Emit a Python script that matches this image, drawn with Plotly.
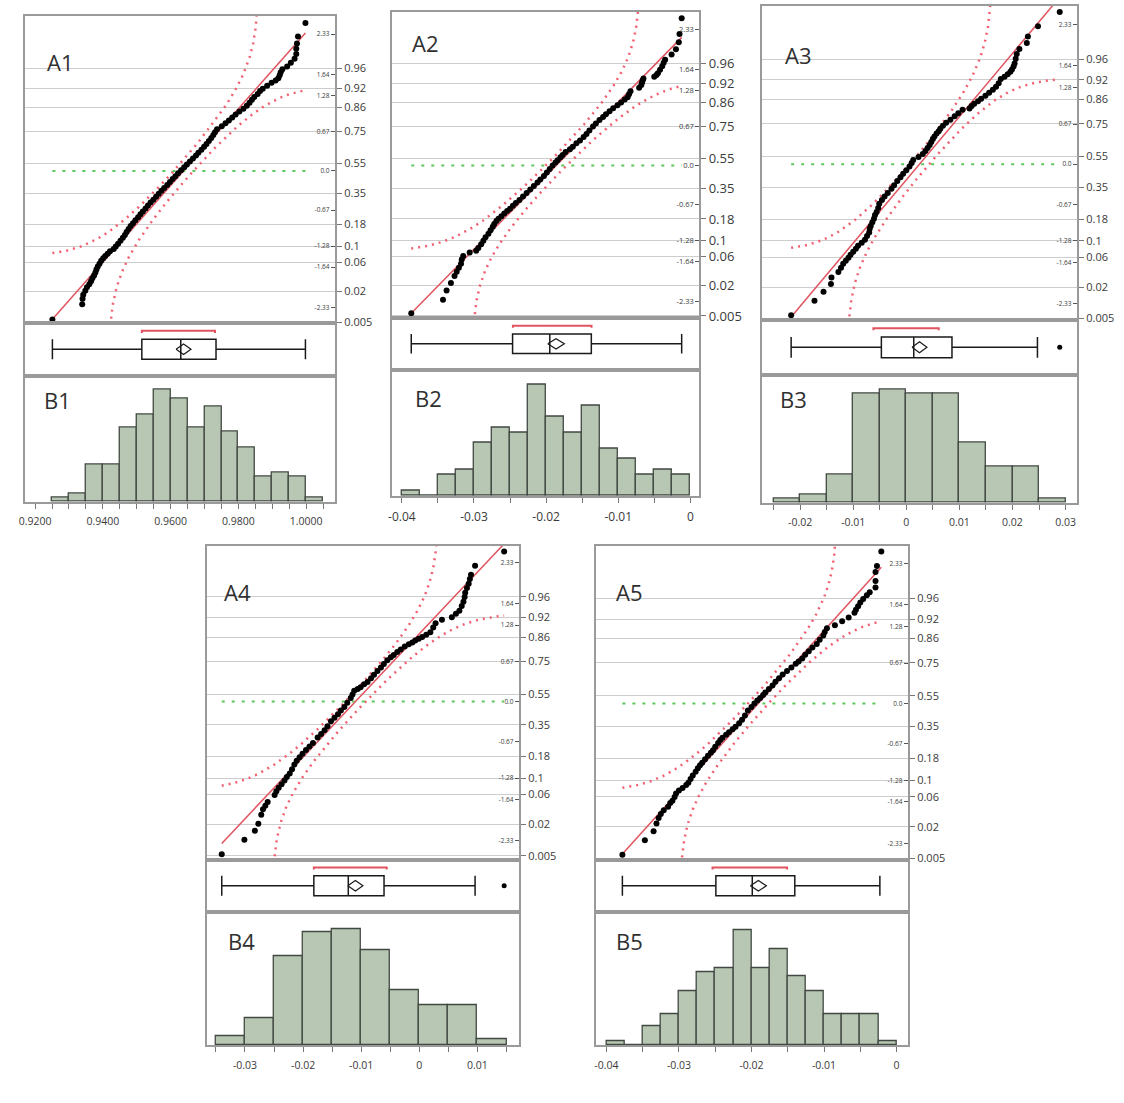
import plotly.graph_objects as go
from statistics import NormalDist

ND = NormalDist()
W, H = 1124, 1103

# ------------------------------------------------------------------ data
prob_levels = [0.005, 0.02, 0.06, 0.1, 0.18, 0.35, 0.55, 0.75, 0.86, 0.92, 0.96]
prob_labels = ["0.005", "0.02", "0.06", "0.1", "0.18", "0.35", "0.55", "0.75", "0.86", "0.92", "0.96"]
z_ticks = [-2.33, -1.64, -1.28, -0.67, 0.0, 0.67, 1.28, 1.64, 2.33]
z_labels = ["-2.33", "-1.64", "-1.28", "-0.67", "0.0", "0.67", "1.28", "1.64", "2.33"]

qq_titles = ["A1", "A2", "A3", "A4", "A5"]
hist_titles = ["B1", "B2", "B3", "B4", "B5"]

# normal quantile plot points (value, normal quantile)
a1_x = [0.9251, 0.9339, 0.9340, 0.9342, 0.9348, 0.9353, 0.9360, 0.9365, 0.9369, 0.9374, 0.9378, 0.9381,
        0.9385, 0.9390, 0.9395, 0.9401, 0.9407, 0.9414, 0.9421, 0.9432, 0.9438, 0.9445, 0.9452, 0.9459,
        0.9465, 0.9470, 0.9476, 0.9482, 0.9489, 0.9496, 0.9504, 0.9511, 0.9518, 0.9526, 0.9533, 0.9541,
        0.9549, 0.9557, 0.9565, 0.9573, 0.9581, 0.9590, 0.9598, 0.9606, 0.9614, 0.9622, 0.9631, 0.9640,
        0.9648, 0.9657, 0.9666, 0.9675, 0.9682, 0.9691, 0.9699, 0.9706, 0.9713, 0.9720, 0.9726, 0.9731,
        0.9737, 0.9751, 0.9762, 0.9772, 0.9782, 0.9792, 0.9803, 0.9815, 0.9825, 0.9833, 0.9840, 0.9847,
        0.9857, 0.9864, 0.9872, 0.9885, 0.9898, 0.9910, 0.9918, 0.9922, 0.9925, 0.9930, 0.9944, 0.9955,
        0.9966, 0.9971, 0.9971, 0.9973, 0.9976, 0.9998]
a1_z = [-2.53, -2.27, -2.18, -2.11, -2.04, -1.98, -1.93, -1.88, -1.83, -1.78, -1.73, -1.68,
        -1.63, -1.58, -1.53, -1.49, -1.45, -1.41, -1.37, -1.33, -1.29, -1.24, -1.19, -1.14,
        -1.09, -1.04, -0.99, -0.94, -0.89, -0.84, -0.79, -0.74, -0.69, -0.64, -0.59, -0.54,
        -0.49, -0.44, -0.39, -0.34, -0.29, -0.24, -0.19, -0.14, -0.09, -0.04, 0.01, 0.06,
        0.11, 0.16, 0.21, 0.26, 0.31, 0.36, 0.41, 0.46, 0.51, 0.56, 0.61, 0.66,
        0.71, 0.76, 0.81, 0.86, 0.91, 0.96, 1.01, 1.06, 1.11, 1.16, 1.21, 1.26,
        1.31, 1.36, 1.40, 1.45, 1.50, 1.54, 1.58, 1.63, 1.68, 1.73, 1.78, 1.84,
        1.91, 1.99, 2.08, 2.17, 2.29, 2.52]

a2_x = [-0.0387, -0.0343, -0.0338, -0.0332, -0.0327, -0.0324, -0.0321, -0.0318, -0.0317, -0.0315,
        -0.0306, -0.0297, -0.0294, -0.0290, -0.0287, -0.0284, -0.0280, -0.0277, -0.0274, -0.0272,
        -0.0269, -0.0266, -0.0262, -0.0258, -0.0254, -0.0250, -0.0246, -0.0242, -0.0237, -0.0232,
        -0.0227, -0.0222, -0.0217, -0.0212, -0.0208, -0.0203, -0.0199, -0.0195, -0.0191, -0.0187,
        -0.0184, -0.0180, -0.0177, -0.0173, -0.0167, -0.0163, -0.0158, -0.0153, -0.0148, -0.0144,
        -0.0140, -0.0135, -0.0131, -0.0126, -0.0121, -0.0117, -0.0112, -0.0107, -0.0101, -0.0096,
        -0.0091, -0.0087, -0.0085, -0.0083, -0.0071, -0.0068, -0.0067, -0.0066, -0.0065, -0.0050,
        -0.0047, -0.0045, -0.0042, -0.0039, -0.0037, -0.0035, -0.0026, -0.0020, -0.0016, -0.0015,
        -0.0012]
a2_z = [-2.53, -2.30, -2.14, -2.01, -1.89, -1.82, -1.75, -1.68, -1.61, -1.55,
        -1.49, -1.46, -1.41, -1.35, -1.29, -1.23, -1.17, -1.11, -1.05, -1.00,
        -0.95, -0.91, -0.87, -0.82, -0.78, -0.74, -0.69, -0.64, -0.59, -0.53,
        -0.47, -0.41, -0.35, -0.29, -0.24, -0.18, -0.12, -0.06, 0.00, 0.05,
        0.09, 0.14, 0.18, 0.23, 0.28, 0.32, 0.38, 0.43, 0.49, 0.54,
        0.60, 0.67, 0.72, 0.78, 0.83, 0.88, 0.93, 0.98, 1.03, 1.08,
        1.13, 1.17, 1.22, 1.27, 1.33, 1.38, 1.42, 1.46, 1.49, 1.52,
        1.55, 1.58, 1.64, 1.70, 1.76, 1.81, 1.90, 1.99, 2.11, 2.25,
        2.52]

a3_x = [-0.0217, -0.0173, -0.0156, -0.0142, -0.0141, -0.0128, -0.0123, -0.0119, -0.0114, -0.0109,
        -0.0105, -0.0100, -0.0095, -0.0091, -0.0084, -0.0078, -0.0074, -0.0070, -0.0069, -0.0067,
        -0.0064, -0.0061, -0.0059, -0.0056, -0.0053, -0.0051, -0.0046, -0.0041, -0.0035, -0.0028,
        -0.0023, -0.0017, -0.0011, -0.0006, 0.0000, 0.0006, 0.0010, 0.0013, 0.0023, 0.0031,
        0.0036, 0.0040, 0.0044, 0.0047, 0.0050, 0.0053, 0.0057, 0.0061, 0.0064, 0.0069,
        0.0075, 0.0083, 0.0091, 0.0098, 0.0106, 0.0119, 0.0123, 0.0128, 0.0135, 0.0141,
        0.0149, 0.0156, 0.0163, 0.0169, 0.0174, 0.0178, 0.0185, 0.0191, 0.0196, 0.0199,
        0.0202, 0.0204, 0.0206, 0.0208, 0.0213, 0.0227, 0.0229, 0.0248, 0.0289]
a3_z = [-2.52, -2.28, -2.13, -2.00, -1.89, -1.80, -1.73, -1.66, -1.61, -1.56,
        -1.51, -1.46, -1.41, -1.36, -1.31, -1.26, -1.20, -1.14, -1.08, -1.03,
        -0.97, -0.91, -0.85, -0.80, -0.73, -0.66, -0.60, -0.54, -0.48, -0.41,
        -0.35, -0.28, -0.22, -0.16, -0.10, -0.04, 0.02, 0.07, 0.12, 0.17,
        0.22, 0.27, 0.32, 0.37, 0.42, 0.46, 0.51, 0.55, 0.59, 0.64,
        0.69, 0.74, 0.80, 0.85, 0.91, 0.93, 0.97, 1.01, 1.05, 1.09,
        1.14, 1.19, 1.24, 1.29, 1.35, 1.42, 1.46, 1.50, 1.54, 1.58,
        1.63, 1.68, 1.76, 1.84, 1.92, 2.02, 2.13, 2.30, 2.54]

a4_x = [-0.0340, -0.0301, -0.0283, -0.0277, -0.0272, -0.0269, -0.0265, -0.0261, -0.0249, -0.0246,
        -0.0242, -0.0237, -0.0232, -0.0228, -0.0223, -0.0219, -0.0215, -0.0211, -0.0206, -0.0201,
        -0.0195, -0.0189, -0.0183, -0.0175, -0.0169, -0.0163, -0.0158, -0.0152, -0.0146, -0.0140,
        -0.0135, -0.0129, -0.0124, -0.0118, -0.0115, -0.0112, -0.0106, -0.0101, -0.0095, -0.0089,
        -0.0083, -0.0078, -0.0072, -0.0066, -0.0061, -0.0055, -0.0049, -0.0044, -0.0038, -0.0032,
        -0.0025, -0.0018, -0.0012, -0.0007, -0.0001, 0.0005, 0.0012, 0.0019, 0.0024, 0.0028,
        0.0039, 0.0056, 0.0063, 0.0069, 0.0073, 0.0076, 0.0078, 0.0079, 0.0082, 0.0085,
        0.0087, 0.0089, 0.0096, 0.0146]
a4_z = [-2.55, -2.31, -2.16, -2.04, -1.89, -1.80, -1.74, -1.68, -1.56, -1.50,
        -1.44, -1.38, -1.32, -1.26, -1.20, -1.13, -1.05, -0.99, -0.93, -0.87,
        -0.81, -0.75, -0.69, -0.60, -0.54, -0.48, -0.41, -0.33, -0.27, -0.21,
        -0.15, -0.09, -0.02, 0.06, 0.12, 0.18, 0.21, 0.24, 0.29, 0.33,
        0.39, 0.45, 0.51, 0.57, 0.63, 0.69, 0.74, 0.78, 0.83, 0.87,
        0.92, 0.96, 0.99, 1.02, 1.05, 1.08, 1.12, 1.16, 1.24, 1.31,
        1.37, 1.41, 1.47, 1.52, 1.60, 1.67, 1.75, 1.82, 1.90, 1.97,
        2.05, 2.12, 2.27, 2.51]

a5_x = [-0.0378, -0.0347, -0.0335, -0.0331, -0.0328, -0.0325, -0.0321, -0.0315, -0.0312, -0.0309,
        -0.0306, -0.0304, -0.0300, -0.0295, -0.0290, -0.0287, -0.0284, -0.0281, -0.0277, -0.0274,
        -0.0271, -0.0268, -0.0264, -0.0260, -0.0256, -0.0253, -0.0250, -0.0246, -0.0243, -0.0240,
        -0.0235, -0.0231, -0.0226, -0.0222, -0.0217, -0.0213, -0.0209, -0.0205, -0.0200, -0.0196,
        -0.0192, -0.0188, -0.0184, -0.0181, -0.0176, -0.0171, -0.0167, -0.0162, -0.0157, -0.0151,
        -0.0145, -0.0139, -0.0135, -0.0130, -0.0126, -0.0121, -0.0116, -0.0110, -0.0106, -0.0101,
        -0.0099, -0.0096, -0.0085, -0.0075, -0.0066, -0.0058, -0.0056, -0.0053, -0.0050, -0.0046,
        -0.0041, -0.0037, -0.0029, -0.0029, -0.0029, -0.0027, -0.0021]
a5_z = [-2.52, -2.28, -2.13, -2.00, -1.91, -1.84, -1.78, -1.72, -1.66, -1.62,
        -1.56, -1.50, -1.45, -1.41, -1.36, -1.32, -1.26, -1.20, -1.14, -1.08,
        -1.03, -0.99, -0.93, -0.87, -0.82, -0.78, -0.72, -0.66, -0.61, -0.57,
        -0.52, -0.48, -0.43, -0.39, -0.33, -0.27, -0.20, -0.12, -0.06, 0.00,
        0.05, 0.09, 0.14, 0.18, 0.24, 0.30, 0.36, 0.42, 0.48, 0.54,
        0.60, 0.66, 0.70, 0.75, 0.81, 0.87, 0.93, 0.99, 1.06, 1.13,
        1.19, 1.25, 1.30, 1.37, 1.43, 1.51, 1.56, 1.62, 1.68, 1.74,
        1.80, 1.85, 1.93, 2.04, 2.19, 2.29, 2.53]

# fitted normal (mean, sd) and confidence-band half width (probability units)
fit_mean = [0.96382, -0.01862, 0.00248, -0.0110, -0.01905]
fit_sd = [0.01532, 0.00794, 0.00948, 0.0097, 0.00747]
band_d = [0.075, 0.072, 0.076, 0.071, 0.074]

# outlier box plots
box_low = [0.9251, -0.0387, -0.0217, -0.0340, -0.0378]
box_q1 = [0.9515, -0.02465, -0.0047, -0.01815, -0.02491]
box_median = [0.9630, -0.01949, 0.0014, -0.01222, -0.01989]
box_q3 = [0.9734, -0.01373, 0.0086, -0.00607, -0.01403]
box_high = [0.9998, -0.0012, 0.0247, 0.0096, -0.0023]
box_outliers = [[], [], [0.0289], [0.0146], []]
shorth_low = [0.9515, -0.0246, -0.0062, -0.01815, -0.02537]
shorth_high = [0.9731, -0.0137, 0.0061, -0.00561, -0.01509]
mean_ci = [0.0022, 0.00115, 0.0014, 0.0013, 0.0011]

# histograms
b1_start, b1_width = 0.925, 0.005
b1_counts = [1, 2, 9, 9, 18, 21, 27, 25, 18, 23, 17, 13, 6, 7, 6, 1]
b2_start, b2_width = -0.04, 0.0025
b2_counts = [1, 0, 4, 5, 10, 13, 12, 21, 15, 12, 17, 9, 7, 4, 5, 4]
b3_start, b3_width = -0.025, 0.005
b3_counts = [1, 2, 7, 27, 28, 27, 27, 15, 9, 9, 1]
b4_start, b4_width = -0.035, 0.005
b4_counts = [3, 9, 29, 37, 38, 31, 18, 13, 13, 2]
b5_start, b5_width = -0.04, 0.0025
b5_counts = [1, 0, 5, 8, 14, 19, 20, 30, 20, 25, 18, 14, 8, 8, 8, 1]

b1_tick_vals = [0.92, 0.94, 0.96, 0.98, 1.00]
b1_tick_text = ["0.9200", "0.9400", "0.9600", "0.9800", "1.0000"]
b2_tick_vals = [-0.04, -0.03, -0.02, -0.01, 0.0]
b2_tick_text = ["-0.04", "-0.03", "-0.02", "-0.01", "0"]
b3_tick_vals = [-0.02, -0.01, 0.0, 0.01, 0.02, 0.03]
b3_tick_text = ["-0.02", "-0.01", "0", "0.01", "0.02", "0.03"]
b4_tick_vals = [-0.03, -0.02, -0.01, 0.0, 0.01]
b4_tick_text = ["-0.03", "-0.02", "-0.01", "0", "0.01"]
b5_tick_vals = [-0.04, -0.03, -0.02, -0.01, 0.0]
b5_tick_text = ["-0.04", "-0.03", "-0.02", "-0.01", "0"]

qq_x = [a1_x, a2_x, a3_x, a4_x, a5_x]
qq_z = [a1_z, a2_z, a3_z, a4_z, a5_z]
h_start = [b1_start, b2_start, b3_start, b4_start, b5_start]
h_width = [b1_width, b2_width, b3_width, b4_width, b5_width]
h_counts = [b1_counts, b2_counts, b3_counts, b4_counts, b5_counts]
h_tick_vals = [b1_tick_vals, b2_tick_vals, b3_tick_vals, b4_tick_vals, b5_tick_vals]
h_tick_text = [b1_tick_text, b2_tick_text, b3_tick_text, b4_tick_text, b5_tick_text]

# ------------------------------------------------------------------ geometry / style (pixels)
GEOM = [
    dict(x0=19, x1=331, top=16, qb=325, bb=378, hb=505, zr=(-2.59, 2.64), xr=(0.91698, 1.0086),
         hmax=30.5, plab=11, zlab=6.5, hlab=10.5, A=(39, 62), B=(36, 403)),
    dict(x0=388, x1=697, top=12, qb=320, bb=372, hb=499, zr=(-2.61, 2.63), xr=(-0.04138, 0.00124),
         hmax=23.9, plab=13, zlab=7.5, hlab=12, A=(406, 43), B=(409, 401)),
    dict(x0=760, x1=1077, top=6, qb=322, bb=377, hb=506, zr=(-2.60, 2.64), xr=(-0.0272, 0.0322),
         hmax=31.8, plab=11, zlab=6.5, hlab=10.5, A=(781, 55), B=(776, 402)),
    dict(x0=202, x1=516, top=549, qb=865, bb=918, hb=1052, zr=(-2.64, 2.61), xr=(-0.03655, 0.0172),
         hmax=43.5, plab=11, zlab=6.5, hlab=10.5, A=(217, 596), B=(221, 947)),
    dict(x0=593, x1=907, top=549, qb=865, bb=918, hb=1052, zr=(-2.60, 2.63), xr=(-0.04146, 0.0016),
         hmax=34.6, plab=11, zlab=6.5, hlab=10.5, A=(611, 596), B=(611, 947)),
]

FRAME = "#9a9a9a"
GRID = "#cdcdcd"
TXT = "#3a3a3a"
RED = "#e0535f"
BAND = "#f0606f"
GREEN = "#5cc85c"
BAR = "#b7c7b4"
BAR_LINE = "#414841"
FONT = "Open Sans"


def sfx(i):
    return "" if i == 1 else str(i)


def band_curves(mean, sd, d, xmin, xmax):
    n = 1500
    u0, u1 = (xmin - mean) / sd, (xmax - mean) / sd
    xa, za, xb, zb = [], [], [], []
    for i in range(n + 1):
        u = u0 + (u1 - u0) * i / n
        p = ND.cdf(u)
        x = mean + sd * u
        if p - d > 1e-7:
            z = ND.inv_cdf(p - d)
            if z > -3.6:
                xa.append(x)
                za.append(z)
        if p + d < 1 - 1e-7:
            z = ND.inv_cdf(p + d)
            if z < 3.6:
                xb.append(x)
                zb.append(z)
    return xa, za, xb, zb


fig = go.Figure()
layout = dict(
    width=W, height=H, margin=dict(l=0, r=0, t=0, b=0),
    paper_bgcolor="white", plot_bgcolor="white", showlegend=False, hovermode=False,
    annotations=[],
)

prob_z = [ND.inv_cdf(p) for p in prob_levels]

for k, g in enumerate(GEOM):
    iq, ib, ih, iz = 3 * k + 1, 3 * k + 2, 3 * k + 3, 16 + k
    xd = [g["x0"] / W, g["x1"] / W]
    qd = [1 - g["qb"] / H, 1 - g["top"] / H]
    bd = [1 - g["bb"] / H, 1 - g["qb"] / H]
    hd = [1 - g["hb"] / H, 1 - g["bb"] / H]
    frame = dict(showline=True, mirror=True, linecolor=FRAME, linewidth=1.6, zeroline=False)

    # --- quantile plot axes
    layout["xaxis" + sfx(iq)] = dict(domain=xd, range=list(g["xr"]), anchor="y" + sfx(iq),
                                     showticklabels=False, ticks="", showgrid=False, **frame)
    layout["yaxis" + sfx(iq)] = dict(domain=qd, range=list(g["zr"]), anchor="x" + sfx(iq), side="right",
                                     tickmode="array", tickvals=prob_z, ticktext=prob_labels,
                                     ticks="outside", ticklen=5, tickcolor="#777", tickwidth=1,
                                     showgrid=True, gridcolor=GRID, gridwidth=1,
                                     tickfont=dict(size=g["plab"], color=TXT, family=FONT), **frame)
    layout["yaxis" + str(iz)] = dict(range=list(g["zr"]), overlaying="y" + sfx(iq), anchor="x" + sfx(iq),
                                     side="right", tickmode="array", tickvals=z_ticks, ticktext=z_labels,
                                     ticks="inside", ticklen=4, tickcolor="#555", ticklabelposition="inside",
                                     showgrid=False, zeroline=False, showline=False,
                                     tickfont=dict(size=g["zlab"], color=TXT, family=FONT))
    # --- box plot axes
    layout["xaxis" + sfx(ib)] = dict(domain=xd, range=list(g["xr"]), anchor="y" + sfx(ib),
                                     showticklabels=False, ticks="", showgrid=False, **frame)
    layout["yaxis" + sfx(ib)] = dict(domain=bd, range=[0, 1], anchor="x" + sfx(ib),
                                     showticklabels=False, ticks="", showgrid=False, **frame)
    # --- histogram axes
    step = 0.005
    lo_i = int(g["xr"][0] / step) - 1
    hi_i = int(g["xr"][1] / step) + 1
    tv, tt = [], []
    for j in range(lo_i, hi_i + 1):
        v = round(j * step, 6)
        if g["xr"][0] <= v <= g["xr"][1]:
            tv.append(v)
            lab = ""
            for val, txt in zip(h_tick_vals[k], h_tick_text[k]):
                if abs(val - v) < 1e-9:
                    lab = txt
            tt.append(lab)
    layout["xaxis" + sfx(ih)] = dict(domain=xd, range=list(g["xr"]), anchor="y" + sfx(ih),
                                     tickmode="array", tickvals=tv, ticktext=tt, ticks="outside",
                                     ticklen=5, tickcolor="#777", tickwidth=1, ticklabelstandoff=4,
                                     tickfont=dict(size=g["hlab"], color=TXT, family=FONT),
                                     showgrid=False, **frame)
    layout["yaxis" + sfx(ih)] = dict(domain=hd, range=[0, g["hmax"]], anchor="x" + sfx(ih),
                                     showticklabels=False, ticks="", showgrid=False, **frame)

    xq, yq = "x" + sfx(iq), "y" + sfx(iq)
    xs, zs = qq_x[k], qq_z[k]
    xmin, xmax = min(xs), max(xs)
    m, s, d = fit_mean[k], fit_sd[k], band_d[k]

    # confidence bands
    xa, za, xb, zb = band_curves(m, s, d, xmin, xmax)
    for bx, bz in ((xa, za), (xb, zb)):
        fig.add_trace(go.Scatter(x=bx, y=bz, mode="lines", xaxis=xq, yaxis=yq,
                                 line=dict(color=BAND, width=2.5, dash="2px,5px")))
    # zero reference line
    fig.add_trace(go.Scatter(x=[xmin, xmax], y=[0, 0], mode="lines", xaxis=xq, yaxis=yq,
                             line=dict(color=GREEN, width=2, dash="3px,7px")))
    # fitted normal line
    fig.add_trace(go.Scatter(x=[xmin, xmax], y=[(xmin - m) / s, (xmax - m) / s], mode="lines",
                             xaxis=xq, yaxis=yq, line=dict(color=RED, width=1.5)))
    # data points
    fig.add_trace(go.Scatter(x=xs, y=zs, mode="markers", xaxis=xq, yaxis=yq,
                             marker=dict(color="black", size=6, line=dict(width=0))))
    # carrier for the z-label axis
    fig.add_trace(go.Scatter(x=[xmin], y=[0], mode="markers", xaxis=xq, yaxis="y" + str(iz),
                             marker=dict(opacity=0), hoverinfo="skip"))

    # box plot
    xb_, yb_ = "x" + sfx(ib), "y" + sfx(ib)
    fig.add_trace(go.Box(y=[0.5], q1=[box_q1[k]], median=[box_median[k]], q3=[box_q3[k]],
                         lowerfence=[box_low[k]], upperfence=[box_high[k]], orientation="h",
                         width=0.38, whiskerwidth=1, boxpoints=False, fillcolor="white",
                         line=dict(color="#1a1a1a", width=1.5), xaxis=xb_, yaxis=yb_))
    fig.add_trace(go.Scatter(x=[shorth_low[k], shorth_low[k], shorth_high[k], shorth_high[k]],
                             y=[0.81, 0.85, 0.85, 0.81], mode="lines", xaxis=xb_, yaxis=yb_,
                             line=dict(color=RED, width=2)))
    mc, ci = m, mean_ci[k]
    fig.add_trace(go.Scatter(x=[mc - ci, mc, mc + ci, mc, mc - ci], y=[0.5, 0.6, 0.5, 0.4, 0.5],
                             mode="lines", xaxis=xb_, yaxis=yb_, line=dict(color="#1a1a1a", width=1.2)))
    if box_outliers[k]:
        fig.add_trace(go.Scatter(x=box_outliers[k], y=[0.5] * len(box_outliers[k]), mode="markers",
                                 xaxis=xb_, yaxis=yb_, marker=dict(color="black", size=5)))

    # histogram
    centers = [h_start[k] + h_width[k] * (i + 0.5) for i in range(len(h_counts[k]))]
    fig.add_trace(go.Bar(x=centers, y=h_counts[k], width=h_width[k], xaxis="x" + sfx(ih),
                         yaxis="y" + sfx(ih), marker=dict(color=BAR, line=dict(color=BAR_LINE, width=1.3))))

    # panel titles
    for txt, (px, py) in ((qq_titles[k], g["A"]), (hist_titles[k], g["B"])):
        layout["annotations"].append(dict(text=txt, x=px / W, y=1 - py / H, xref="paper", yref="paper",
                                          xanchor="left", yanchor="middle", showarrow=False,
                                          font=dict(size=22, color="#303030", family=FONT)))

layout["bargap"] = 0
fig.update_layout(**layout)
fig.write_html("out.html")
